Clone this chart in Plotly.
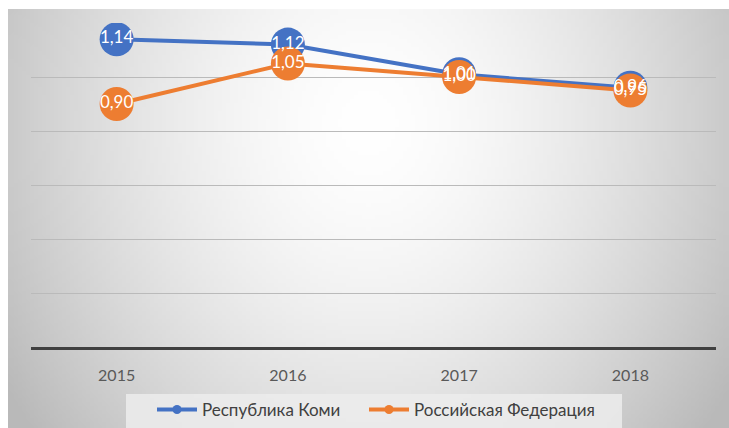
import base64
import struct
import zlib

import numpy as np
import plotly.graph_objects as go

years = ["2015", "2016", "2017", "2018"]
komi = [1.14, 1.12, 1.01, 0.96]
russia = [0.90, 1.05, 1.00, 0.95]
komi_labels = ["1,14", "1,12", "1,01", "0,96"]
russia_labels = ["0,90", "1,05", "1,00", "0,95"]

BLUE = "#4472C4"
ORANGE = "#ED7D31"
FONT = "Lato, 'Open Sans', sans-serif"

W, H = 729, 428
L, R, T, B = 31, 13, 23, 81
PW, PH = W - L - R, H - T - B


def px_x(px):
    return (px - L) / PW


def px_y(py):
    return (H - B - py) / PH


def gradient_png(w: int, h: int) -> str:
    # soft grey radial backdrop, like the office chart style
    xs = np.linspace(0, 1, w)
    ys = np.linspace(0, 1, h)
    gx, gy = np.meshgrid(xs, ys)
    dx = (gx - 0.5) / 0.5
    dy = (gy - 0.27) / 1.0
    r = np.sqrt(dx ** 2 + dy ** 2)
    val = np.clip(255 - 52 * r ** 1.6, 185, 255).astype(np.uint8)
    raw = b"".join(b"\x00" + row.tobytes() for row in val)

    def chunk(tag, data):
        c = struct.pack(">I", len(data)) + tag + data
        return c + struct.pack(">I", zlib.crc32(tag + data) & 0xFFFFFFFF)

    png = b"\x89PNG\r\n\x1a\n"
    png += chunk(b"IHDR", struct.pack(">IIBBBBB", w, h, 8, 0, 0, 0, 0))
    png += chunk(b"IDAT", zlib.compress(raw, 9))
    png += chunk(b"IEND", b"")
    return "data:image/png;base64," + base64.b64encode(png).decode()


fig = go.Figure()

fig.add_trace(
    go.Scatter(
        x=years, y=komi, mode="lines+markers", name="Республика Коми",
        line=dict(color=BLUE, width=4), marker=dict(size=34, color=BLUE),
        showlegend=False, hoverinfo="skip",
    )
)
fig.add_trace(
    go.Scatter(
        x=years, y=russia, mode="lines+markers", name="Российская Федерация",
        line=dict(color=ORANGE, width=4), marker=dict(size=34, color=ORANGE),
        showlegend=False, hoverinfo="skip",
    )
)

# labels on top of both series
for vals, labels in [(komi, komi_labels), (russia, russia_labels)]:
    fig.add_trace(
        go.Scatter(
            x=years, y=vals, mode="text", text=labels,
            textposition="middle center",
            textfont=dict(color="white", size=17, family=FONT),
            showlegend=False, hoverinfo="skip",
        )
    )

# legend entries with small markers, one legend box each
for name, color, lg in [("Республика Коми", BLUE, "legend"),
                        ("Российская Федерация", ORANGE, "legend2")]:
    fig.add_trace(
        go.Scatter(
            x=[None], y=[None], mode="lines+markers", name=name,
            line=dict(color=color, width=4), marker=dict(size=9, color=color),
            legend=lg,
        )
    )

fig.add_layout_image(
    source=gradient_png(180, 105),
    xref="paper", yref="paper",
    x=px_x(8), y=px_y(9),
    sizex=(W - 8) / PW, sizey=(H - 9) / PH,
    xanchor="left", yanchor="top",
    sizing="stretch", layer="below",
)

# legend panel
fig.add_shape(
    type="rect", xref="paper", yref="paper",
    x0=px_x(126), x1=px_x(622), y0=px_y(428), y1=px_y(394),
    fillcolor="rgba(236,236,236,0.85)", line_width=0, layer="below",
)

legend_style = dict(
    orientation="h",
    xanchor="left",
    yanchor="middle", y=px_y(410),
    bgcolor="rgba(0,0,0,0)",
    font=dict(size=17, color="#404040", family=FONT),
    itemwidth=40,
)

fig.update_layout(
    width=W,
    height=H,
    paper_bgcolor="white",
    plot_bgcolor="rgba(0,0,0,0)",
    margin=dict(l=L, r=R, t=T, b=B, autoexpand=False),
    font=dict(family=FONT, color="#595959", size=15),
    showlegend=True,
    legend=dict(legend_style, x=px_x(152)),
    legend2=dict(legend_style, x=px_x(364)),
)

fig.update_xaxes(
    type="category",
    range=[-0.5, 3.5],
    showline=True,
    linecolor="#404040",
    linewidth=3,
    showgrid=False,
    ticks="",
    ticklabelstandoff=12,
    tickfont=dict(size=16, color="#595959"),
)

fig.update_yaxes(
    range=[0, 1.2],
    dtick=0.2,
    showticklabels=False,
    gridcolor="#bababa",
    gridwidth=1,
    zeroline=False,
)

fig.write_html(
    "out.html",
    config={"displayModeBar": False},
    post_script="document.body.style.margin='0';document.body.style.overflow='hidden';",
)
